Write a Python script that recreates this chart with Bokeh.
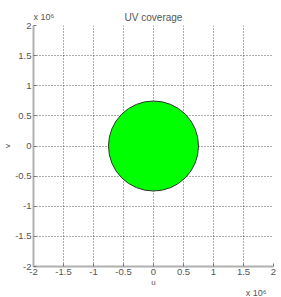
from bokeh.plotting import figure
from bokeh.models import Range1d, FixedTicker, Title
from bokeh.embed import file_html
from bokeh.resources import INLINE

scale = 1e6
tick_values = [-2, -1.5, -1, -0.5, 0, 0.5, 1, 1.5, 2]
tick_labels = ["-2", "-1.5", "-1", "-0.5", "0", "0.5", "1", "1.5", "2"]
center_u = [0.0]
center_v = [0.0]
coverage_radius = [0.75e6]

ticks = [t * scale for t in tick_values]
overrides = {t: l for t, l in zip(ticks, tick_labels)}

FONT = "Liberation Sans"
TXT = "#555555"

p = figure(width=281, height=297, output_backend="svg", toolbar_location=None, title=None,
           x_range=Range1d(-2 * scale, 2 * scale), y_range=Range1d(-2 * scale, 2 * scale),
           min_border_left=32, min_border_right=8, min_border_top=25, min_border_bottom=31)
p.outline_line_color = None

p.circle(x=center_u, y=center_v, radius=coverage_radius, fill_color="#00FF00",
         line_color="#333333", line_width=1)

for ax in (p.xaxis[0], p.yaxis[0]):
    ax.ticker = FixedTicker(ticks=ticks, minor_ticks=[])
    ax.major_label_overrides = overrides
    ax.axis_line_color = "#b0b0b0"
    ax.axis_line_width = 2
    ax.major_tick_in = 3
    ax.major_tick_out = 0
    ax.major_tick_line_color = "#777777"
    ax.minor_tick_line_color = None
    ax.major_label_standoff = 2
    ax.major_label_text_font = FONT
    ax.major_label_text_font_size = "9.5px"
    ax.major_label_text_color = TXT
    ax.axis_label_text_font = FONT
    ax.axis_label_text_font_size = "8px"
    ax.axis_label_text_font_style = "normal"
    ax.axis_label_text_color = TXT
    ax.axis_label_standoff = 0

p.xaxis[0].axis_label = "u"
p.yaxis[0].axis_label = "v"

for g in (p.xgrid[0], p.ygrid[0]):
    g.ticker = FixedTicker(ticks=ticks)
    g.grid_line_color = "#222222"
    g.grid_line_dash = "1 2"
    g.grid_line_width = 1
    g.grid_line_alpha = 0.75

def title(text, align, place, standoff, size, offset=0):
    t = Title(text=text, align=align, text_font=FONT, text_font_size=size,
              text_font_style="normal", text_color=TXT, standoff=standoff, offset=offset)
    p.add_layout(t, place)

title("UV coverage", "center", "above", 5, "10px")
title("x 10⁶", "left", "above", -28, "9px")
title("x 10⁶", "right", "below", -8, "9px", offset=7)

open("out.html", "w").write(file_html(p, INLINE))
